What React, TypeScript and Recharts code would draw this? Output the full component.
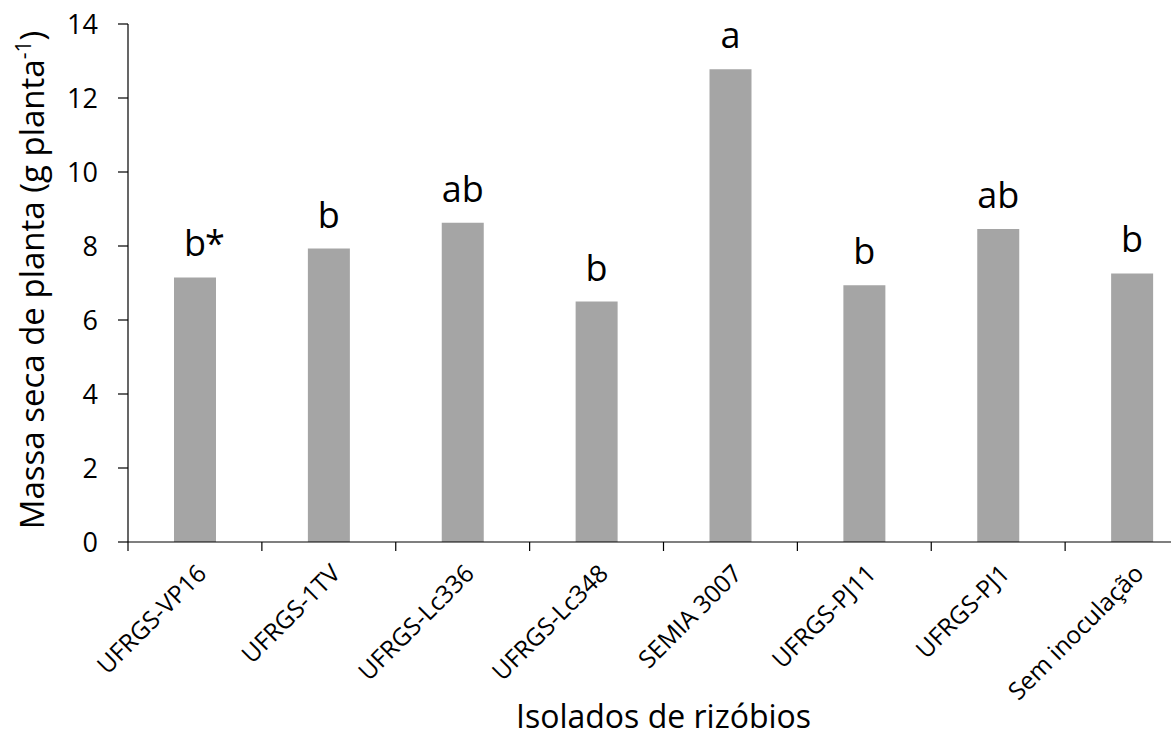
import React from 'react';
import { BarChart, Bar, XAxis, YAxis, LabelList, Label } from 'recharts';

const categories = [
  'UFRGS-VP16',
  'UFRGS-1TV',
  'UFRGS-Lc336',
  'UFRGS-Lc348',
  'SEMIA 3007',
  'UFRGS-PJ11',
  'UFRGS-PJ1',
  'Sem inoculação',
];
const dryMass = [7.15, 7.93, 8.63, 6.5, 12.78, 6.94, 8.46, 7.26];
const letters = ['b*', 'b', 'ab', 'b', 'a', 'b', 'ab', 'b'];
const yTicks = [0, 2, 4, 6, 8, 10, 12, 14];
const boundaryTicks = [0, 1, 2, 3, 4, 5, 6, 7, 8];

const FONT = '"Open Sans", "Noto Sans", sans-serif';

const data = categories.map((name, i) => ({ name, mass: dryMass[i], letter: letters[i] }));

const XTick = (props: any) => {
  const { x, y, payload } = props;
  const tx = x + 13;
  const ty = y + 32;
  return (
    <text
      x={tx}
      y={ty}
      transform={`rotate(-45 ${tx} ${ty})`}
      textAnchor="end"
      fontFamily={FONT}
      fontSize={24.5}
      fill="#000"
    >
      {payload.value}
    </text>
  );
};

const NoLabel = () => <g />;

const BarLetter = (props: any) => {
  const { x, y, width, value } = props;
  const str = String(value);
  const main = str.replace('*', '');
  const hasStar = str.includes('*');
  const cx = x + width / 2;
  return (
    <g>
      <text
        x={cx}
        y={y - 21}
        textAnchor="middle"
        fontFamily={FONT}
        fontSize={36}
        fill="#000"
      >
        {main}
      </text>
      {hasStar && (
        <text
          x={cx + 10}
          y={y - 21}
          textAnchor="start"
          fontFamily={FONT}
          fontSize={36}
          fill="#000"
        >
          *
        </text>
      )}
    </g>
  );
};

const YTitle = (props: any) => {
  const vb = props.viewBox || { x: 0, y: 24, width: 128, height: 518 };
  const cx = 44;
  const cy = vb.y + vb.height / 2 - 3;
  return (
    <text
      x={cx}
      y={cy}
      transform={`rotate(-90 ${cx} ${cy})`}
      textAnchor="middle"
      fontFamily={FONT}
      fontSize={33}
      fill="#000"
    >
      Massa seca de planta (g planta
      <tspan dy={-13} fontSize={21}>-1</tspan>
      <tspan dy={13}>)</tspan>
    </text>
  );
};

const XTitle = (props: any) => {
  const vb = props.viewBox || { x: 128, y: 543, width: 1071, height: 193 };
  return (
    <text
      x={vb.x + vb.width / 2}
      y={vb.y + vb.height - 8}
      textAnchor="middle"
      fontFamily={FONT}
      fontSize={32}
      fill="#000"
    >
      Isolados de rizóbios
    </text>
  );
};

export default function App() {
  return (
    <div
      style={{
        position: 'absolute',
        left: 0,
        top: 0,
        width: 1171,
        height: 736,
        overflow: 'hidden',
        background: '#fff',
      }}
    >
      <BarChart
        width={1211}
        height={736}
        data={data}
        margin={{ top: 24, right: 12, left: 0, bottom: 0 }}
      >
        <XAxis
          xAxisId="a"
          type="number"
          dataKey="mass"
          domain={[0, 8]}
          ticks={boundaryTicks}
          interval={0}
          height={1}
          tick={<NoLabel />}
          tickSize={9}
          tickMargin={0}
          allowDataOverflow
          axisLine={{ stroke: '#000', strokeWidth: 1.2 }}
          tickLine={{ stroke: '#000', strokeWidth: 1.2 }}
        />
        <XAxis
          xAxisId="b"
          dataKey="name"
          height={193}
          interval={0}
          tickSize={0}
          tickMargin={0}
          axisLine={false}
          tickLine={false}
          tick={<XTick />}
        >
          <Label content={<XTitle />} />
        </XAxis>
        <YAxis
          width={128}
          domain={[0, 14]}
          ticks={yTicks}
          interval={0}
          tickSize={10}
          tickMargin={20}
          allowDataOverflow
          axisLine={{ stroke: '#000', strokeWidth: 1.2 }}
          tickLine={{ stroke: '#000', strokeWidth: 1.2 }}
          tick={{ fill: '#000', fontSize: 27, fontFamily: FONT }}
        >
          <Label content={<YTitle />} />
        </YAxis>
        <Bar
          xAxisId="b"
          dataKey="mass"
          fill="#a5a5a5"
          barSize={42}
          isAnimationActive={false}
        >
          <LabelList dataKey="letter" content={<BarLetter />} />
        </Bar>
      </BarChart>
    </div>
  );
}
